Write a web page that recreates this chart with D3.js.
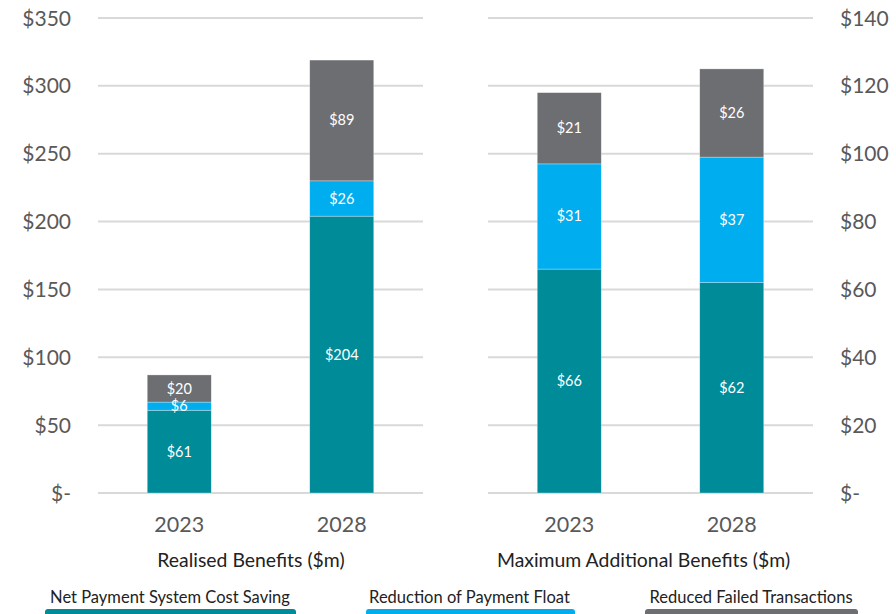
<!DOCTYPE html>
<html>
<head>
<meta charset="utf-8">
<script src="https://cdn.jsdelivr.net/npm/d3@7"></script>
<style>
  html, body { margin: 0; padding: 0; background: #fff; }
  svg { display: block; font-family: Lato, "Open Sans", sans-serif; }
</style>
</head>
<body>
<svg id="chart" width="896" height="614"></svg>
<script>
// Categories and series
const years = ["2023", "2028"];
const seriesKeys = ["net", "float", "failed"];
const seriesNames = ["Net Payment System Cost Saving", "Reduction of Payment Float", "Reduced Failed Transactions"];
const seriesColors = ["#008b99", "#00adee", "#6d6e71"];

// Realised Benefits ($m)
const realisedNet = [61, 204];
const realisedFloat = [6, 26];
const realisedFailed = [20, 89];

// Maximum Additional Benefits ($m)
const maxNet = [66, 62];
const maxFloat = [31, 37];
const maxFailed = [21, 26];

// Axis ticks
const leftTicks = [0, 50, 100, 150, 200, 250, 300, 350];
const rightTicks = [0, 20, 40, 60, 80, 100, 120, 140];

const panelTitles = ["Realised Benefits ($m)", "Maximum Additional Benefits ($m)"];

const svg = d3.select("#chart");
const plotTop = 18, plotBottom = 493;
const fmt = v => v === 0 ? "$-" : "$" + v;

function rows(net, flt, failed) {
  return years.map((y, i) => ({ year: y, net: net[i], float: flt[i], failed: failed[i] }));
}

const panels = [
  { data: rows(realisedNet, realisedFloat, realisedFailed), ticks: leftTicks, max: 350,
    x0: 98, x1: 423, side: "left", title: panelTitles[0], titleX: 251 },
  { data: rows(maxNet, maxFloat, maxFailed), ticks: rightTicks, max: 140,
    x0: 488, x1: 813, side: "right", title: panelTitles[1], titleX: 643.5 }
];

const stack = d3.stack().keys(seriesKeys);
const color = d3.scaleOrdinal().domain(seriesKeys).range(seriesColors);

panels.forEach(p => {
  const y = d3.scaleLinear().domain([0, p.max]).range([plotBottom, plotTop]);
  const x = d3.scaleBand().domain(years).range([p.x0, p.x1]).paddingInner(0.606).paddingOuter(0.303);
  const g = svg.append("g");

  // gridlines
  g.selectAll("line.grid").data(p.ticks).join("line")
    .attr("x1", p.x0).attr("x2", p.x1)
    .attr("y1", d => y(d)).attr("y2", d => y(d))
    .attr("stroke", "#d9d9d9").attr("stroke-width", 2);

  // value axis labels
  const axisX = p.side === "left" ? 71 : 840;
  g.selectAll("text.tick").data(p.ticks).join("text")
    .attr("x", axisX).attr("y", d => y(d) + 7.5)
    .attr("text-anchor", p.side === "left" ? "end" : "start")
    .attr("font-size", 21).attr("fill", "#595959")
    .text(fmt);

  // stacked bars, then their value labels on top of every segment
  const layers = stack(p.data);
  const segs = layers.flatMap(layer => layer.map(d => ({ key: layer.key, d })));
  g.append("g").selectAll("rect").data(segs).join("rect")
    .attr("fill", s => color(s.key))
    .attr("x", s => x(s.d.data.year))
    .attr("width", x.bandwidth())
    .attr("y", s => y(s.d[1]))
    .attr("height", s => y(s.d[0]) - y(s.d[1]))
    .attr("stroke", "#ffffff").attr("stroke-opacity", 0.5).attr("stroke-width", 0.6);
  g.append("g").selectAll("text").data(segs).join("text")
    .attr("x", s => x(s.d.data.year) + x.bandwidth() / 2)
    .attr("y", s => (y(s.d[0]) + y(s.d[1])) / 2 + 5)
    .attr("text-anchor", "middle")
    .attr("font-size", 14.5).attr("fill", "#ffffff")
    .text(s => "$" + (s.d[1] - s.d[0]));

  // category labels
  g.selectAll("text.cat").data(years).join("text")
    .attr("x", d => x(d) + x.bandwidth() / 2).attr("y", 532)
    .attr("text-anchor", "middle").attr("font-size", 21.5).attr("fill", "#595959")
    .text(d => d);

  // panel title
  g.append("text").attr("x", p.titleX).attr("y", 567)
    .attr("text-anchor", "middle").attr("font-size", 19.4).attr("fill", "#222")
    .text(p.title);
});

// legend
const legendPos = [
  { tx: 170, bx: 45, bw: 251 },
  { tx: 469.5, bx: 366, bw: 209 },
  { tx: 751, bx: 645, bw: 213 }
];
const lg = svg.append("g");
seriesNames.forEach((name, i) => {
  lg.append("text").attr("x", legendPos[i].tx).attr("y", 603)
    .attr("text-anchor", "middle").attr("font-size", 16.5).attr("fill", "#222")
    .text(name);
  lg.append("rect").attr("x", legendPos[i].bx).attr("y", 609)
    .attr("width", legendPos[i].bw).attr("height", 10).attr("rx", 3)
    .attr("fill", seriesColors[i]);
});
</script>
</body>
</html>
